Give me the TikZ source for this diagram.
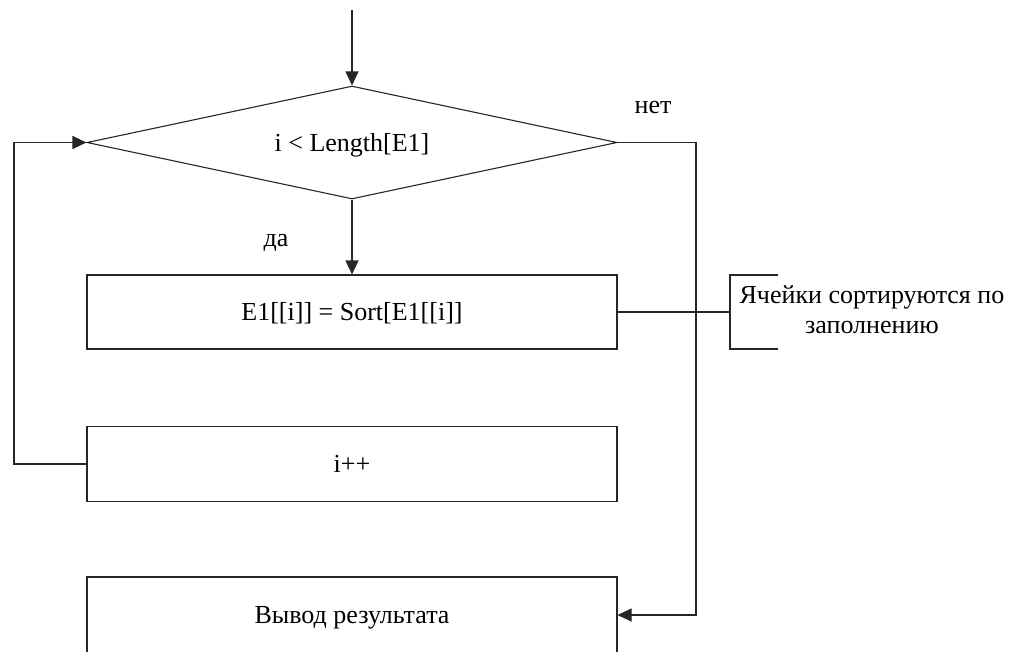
\documentclass[tikz,border=0pt]{standalone}
\usepackage{fontspec}
\setmainfont{Liberation Serif}
\usetikzlibrary{shapes.geometric,arrows.meta}
\begin{document}
\begin{tikzpicture}[x=1pt,y=-1pt,
  font=\fontsize{26}{30}\selectfont,
  line/.style={draw=black!85, line width=1.1pt},
  flow/.style={line, -{Triangle[length=14pt,width=13pt]}},
  oneline/.style={text height=17pt, text depth=0pt},
  procbox/.style={line, oneline, rectangle, minimum width=530pt, minimum height=75pt, inner sep=0pt},
  decision/.style={line, oneline, diamond, aspect=4.7, minimum width=530pt, minimum height=113pt, inner sep=0pt},
  lbl/.style={oneline, inner sep=0pt}]
\clip (0,0) rectangle (1022,651);

% flowchart blocks
\node[decision] (cond) at (352,142.5) {i < Length[E1]};
\node[procbox, minimum height=74pt] (sort) at (352,312) {E1[[i]] = Sort[E1[[i]]};
\node[procbox] (inc) at (352,464) {i++};
\node[procbox, minimum height=76pt] (out) at (352,615) {Вывод результата};

% branch labels
\node[lbl] (yes) at (276,238) {да};
\node[lbl] (no) at (653,104.5) {нет};

% entry
\coordinate (entry) at (352,10);
\draw[flow] (entry) -- (cond.north);

% yes branch
\draw[flow] (cond.south) -- (sort.north);

% no branch to output
\draw[flow] (cond.east) -- (696,142.5) |- (out.east);

% loop back
\draw[flow] (inc.west) -- (14,464) |- (cond.west);

% comment bracket
\node[inner sep=0pt, align=center] (note) at (872,310) {Ячейки сортируются по\\заполнению};
\coordinate (nb) at (730,312);
\draw[line] (sort.east) -- (nb);
\draw[line] (778,275) -- (730,275) -- (730,349) -- (778,349);
\end{tikzpicture}
\end{document}
